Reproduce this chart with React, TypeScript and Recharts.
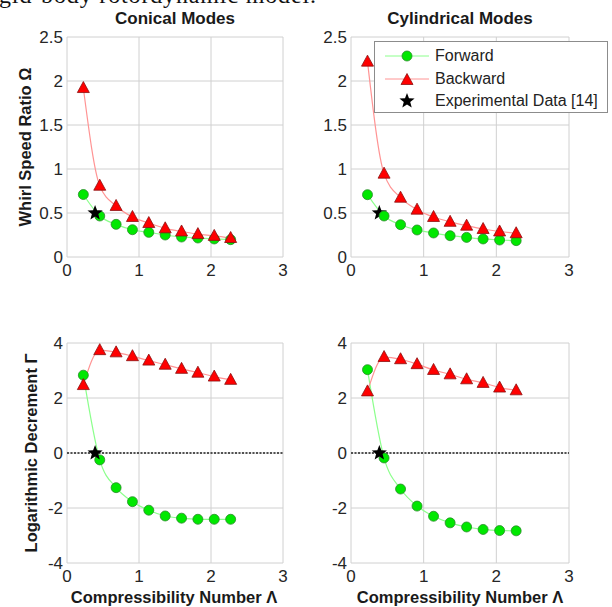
import {
  CartesianGrid,
  ComposedChart,
  Legend,
  Line,
  ReferenceLine,
  Scatter,
  XAxis,
  YAxis,
} from "recharts";

// compressibility number Λ (shared by every panel)
const lambda = [0.227, 0.455, 0.682, 0.909, 1.136, 1.364, 1.591, 1.818, 2.045, 2.273];

// whirl speed ratio Ω
const conicalFwdWhirl = [0.71, 0.466, 0.371, 0.31, 0.28, 0.25, 0.227, 0.216, 0.205, 0.197];
const conicalBwdWhirl = [1.92, 0.81, 0.58, 0.455, 0.386, 0.326, 0.29, 0.26, 0.24, 0.216];
const cylFwdWhirl = [0.708, 0.466, 0.367, 0.307, 0.273, 0.242, 0.223, 0.205, 0.193, 0.186];
const cylBwdWhirl = [2.22, 0.947, 0.674, 0.538, 0.455, 0.4, 0.356, 0.318, 0.29, 0.27];

// logarithmic decrement Γ
const conicalFwdDec = [2.83, -0.25, -1.26, -1.77, -2.08, -2.29, -2.37, -2.41, -2.41, -2.41];
const conicalBwdDec = [2.47, 3.74, 3.66, 3.52, 3.36, 3.21, 3.06, 2.92, 2.78, 2.66];
const cylFwdDec = [3.03, -0.18, -1.31, -1.93, -2.3, -2.54, -2.69, -2.78, -2.82, -2.83];
const cylBwdDec = [2.24, 3.49, 3.41, 3.23, 3.02, 2.86, 2.68, 2.55, 2.38, 2.28];

// experimental data [14]
const expLambda = [0.39];
const expWhirl = [0.5];
const expDec = [0];

const xTicks = [0, 1, 2, 3];
const whirlTicks = [0, 0.5, 1, 1.5, 2, 2.5];
const decTicks = [-4, -2, 0, 2, 4];

const seriesNames = ["Forward", "Backward", "Experimental Data [14]"];

const SANS = '"Liberation Sans", Arial, Helvetica, sans-serif';
const GREEN_LINE = "#8cff8c";
const RED_LINE = "#ff9494";

function CircleDot(p: any) {
  if (p.cx == null || p.cy == null) return <g key={p.key} />;
  return (
    <circle key={p.key} cx={p.cx} cy={p.cy} r={5} fill="#00e800" stroke="#2c8a2c" strokeWidth={0.8} />
  );
}

function TriangleDot(p: any) {
  if (p.cx == null || p.cy == null) return <g key={p.key} />;
  const { cx, cy } = p;
  return (
    <polygon
      key={p.key}
      points={`${cx},${cy - 6.5} ${cx - 6},${cy + 4.5} ${cx + 6},${cy + 4.5}`}
      fill="#ff0000"
      stroke="#8a1010"
      strokeWidth={0.8}
    />
  );
}

function starPoints(cx: number, cy: number, ro: number, ri: number) {
  const pts: string[] = [];
  for (let i = 0; i < 10; i++) {
    const r = i % 2 === 0 ? ro : ri;
    const a = -Math.PI / 2 + (i * Math.PI) / 5;
    pts.push(`${cx + r * Math.cos(a)},${cy + r * Math.sin(a)}`);
  }
  return pts.join(" ");
}

function Star(p: any) {
  return <polygon points={starPoints(p.cx, p.cy, 8, 3.4)} fill="#000" />;
}

function LegendBox() {
  return (
    <div
      style={{
        width: 232,
        height: 70,
        border: "1px solid #8c8c8c",
        background: "#fff",
        fontFamily: SANS,
        fontSize: 16,
        color: "#222",
        position: "relative",
      }}
    >
      {seriesNames.map((name, i) => (
        <div key={name} style={{ position: "absolute", left: 0, top: 3 + i * 22.5, height: 22, display: "flex", alignItems: "center" }}>
          <svg width={58} height={22}>
            {i === 0 && <line x1={10} x2={54} y1={11} y2={11} stroke={GREEN_LINE} />}
            {i === 1 && <line x1={10} x2={54} y1={11} y2={11} stroke={RED_LINE} />}
            {i === 0 && <CircleDot cx={32} cy={11} />}
            {i === 1 && <TriangleDot cx={32} cy={12} />}
            {i === 2 && <Star cx={32} cy={11} />}
          </svg>
          <span style={{ marginLeft: 2, whiteSpace: "nowrap" }}>{name}</span>
        </div>
      ))}
    </div>
  );
}

type PanelProps = {
  left: number;
  top: number;
  width: number;
  height: number;
  margin: { top: number; right: number; bottom: number; left: number };
  fwd: number[];
  bwd: number[];
  expY: number[];
  yDomain: [number, number];
  yTicks: number[];
  legend?: boolean;
  zeroLine?: boolean;
};

function Panel(props: PanelProps) {
  const data = lambda.map((x, i) => ({ x, fwd: props.fwd[i], bwd: props.bwd[i] }));
  const exp = expLambda.map((x, i) => ({ x, y: props.expY[i] }));
  const tick = { fill: "#262626", fontSize: 17, fontFamily: SANS };
  return (
    <div style={{ position: "absolute", left: props.left, top: props.top }}>
      <ComposedChart width={props.width} height={props.height} data={data} margin={props.margin}>
        <CartesianGrid stroke="#d0d0d0" />
        <XAxis
          type="number"
          dataKey="x"
          domain={[0, 3]}
          ticks={xTicks}
          axisLine={false}
          tickLine={false}
          tickSize={5}
          tickMargin={2}
          height={30}
          tick={tick}
          interval={0}
        />
        <YAxis
          type="number"
          domain={props.yDomain}
          ticks={props.yTicks}
          axisLine={false}
          tickLine={false}
          tickSize={2}
          tickMargin={2}
          width={40}
          tick={tick}
          interval={0}
          allowDataOverflow
        />
        {props.zeroLine && (
          <ReferenceLine y={0} stroke="#222" strokeDasharray="2 1.5" strokeWidth={1.6} />
        )}
        <Line
          dataKey="fwd"
          type="monotone"
          stroke={GREEN_LINE}
          strokeWidth={1.2}
          dot={CircleDot}
          isAnimationActive={false}
        />
        <Line
          dataKey="bwd"
          type="monotone"
          stroke={RED_LINE}
          strokeWidth={1.2}
          dot={TriangleDot}
          isAnimationActive={false}
        />
        <Scatter data={exp} dataKey="y" shape={Star} isAnimationActive={false} />
        {props.legend && (
          <Legend
            layout="vertical"
            align="center"
            verticalAlign="middle"
            content={() => <LegendBox />}
            wrapperStyle={{ left: 68, top: 41, width: 234, height: 72 }}
          />
        )}
      </ComposedChart>
    </div>
  );
}

export default function App() {
  const txt = { fontFamily: SANS, fill: "#1a1a1a" };
  return (
    <div style={{ position: "absolute", left: 0, top: 0, width: 612, height: 607, background: "#fff", overflow: "hidden" }}>
      <Panel
        left={0}
        top={0}
        width={306}
        height={300}
        margin={{ top: 37, right: 23, bottom: 13, left: 27 }}
        fwd={conicalFwdWhirl}
        bwd={conicalBwdWhirl}
        expY={expWhirl}
        yDomain={[0, 2.5]}
        yTicks={whirlTicks}
      />
      <Panel
        left={306}
        top={0}
        width={306}
        height={300}
        margin={{ top: 37, right: 43, bottom: 13, left: 5 }}
        fwd={cylFwdWhirl}
        bwd={cylBwdWhirl}
        expY={expWhirl}
        yDomain={[0, 2.5]}
        yTicks={whirlTicks}
        legend
      />
      <Panel
        left={0}
        top={300}
        width={306}
        height={307}
        margin={{ top: 43, right: 23, bottom: 14, left: 27 }}
        fwd={conicalFwdDec}
        bwd={conicalBwdDec}
        expY={expDec}
        yDomain={[-4, 4]}
        yTicks={decTicks}
        zeroLine
      />
      <Panel
        left={306}
        top={300}
        width={306}
        height={307}
        margin={{ top: 43, right: 43, bottom: 14, left: 5 }}
        fwd={cylFwdDec}
        bwd={cylBwdDec}
        expY={expDec}
        yDomain={[-4, 4]}
        yTicks={decTicks}
        zeroLine
      />
      <svg width={612} height={607} style={{ position: "absolute", left: 0, top: 0, pointerEvents: "none" }}>
        <text x={-1} y={3} fontFamily='"Liberation Serif", "Times New Roman", serif' fontSize={24} fill="#111" textLength={317} lengthAdjust="spacing">
          gid-body rotordynamic model.
        </text>
        <text x={175} y={23.5} textAnchor="middle" fontSize={17} fontWeight="bold" {...txt}>
          Conical Modes
        </text>
        <text x={460} y={23.5} textAnchor="middle" fontSize={17} fontWeight="bold" {...txt}>
          Cylindrical Modes
        </text>
        <text x={0} y={0} transform="translate(31,147) rotate(-90)" textAnchor="middle" fontSize={16.5} fontWeight="bold" {...txt}>
          Whirl Speed Ratio Ω
        </text>
        <text x={0} y={0} transform="translate(37,453) rotate(-90)" textAnchor="middle" fontSize={16.5} fontWeight="bold" {...txt}>
          Logarithmic Decrement Γ
        </text>
        <text x={174} y={602.5} textAnchor="middle" fontSize={16.5} fontWeight="bold" {...txt}>
          Compressibility Number Λ
        </text>
        <text x={460} y={602.5} textAnchor="middle" fontSize={16.5} fontWeight="bold" {...txt}>
          Compressibility Number Λ
        </text>
      </svg>
    </div>
  );
}
